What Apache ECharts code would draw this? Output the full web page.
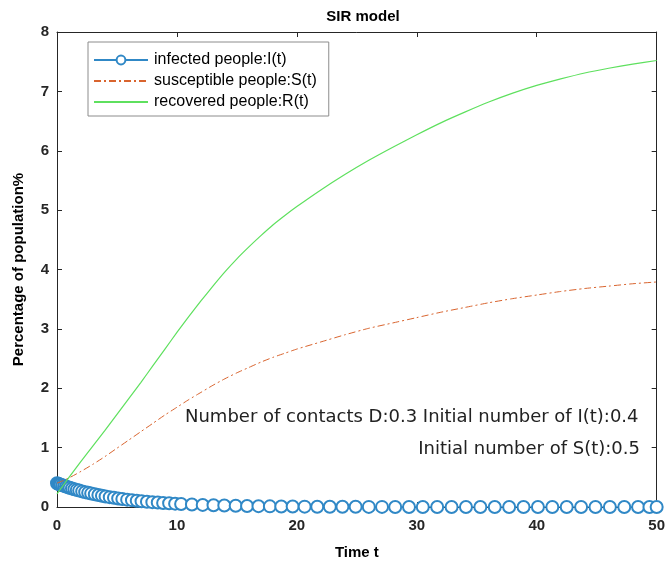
<!DOCTYPE html>
<html>
<head>
<meta charset="utf-8">
<script src="https://cdn.jsdelivr.net/npm/echarts@6/dist/echarts.min.js"></script>
<style>
  html, body { margin: 0; padding: 0; background: #fff; }
  #chart { width: 668px; height: 565px; }
</style>
</head>
<body>
<div id="chart"></div>
<script>
// Solver output times for the infected curve (one marker per step)
const tInfected = [0, 0.1, 0.2, 0.3, 0.45, 0.6, 0.75, 0.9, 1.05, 1.25, 1.45, 1.65, 1.85, 2.1, 2.35, 2.6, 2.85, 3.15, 3.45, 3.75,
  4.05, 4.4, 4.75, 5.1, 5.45, 5.85, 6.25, 6.65, 7.05, 7.5, 7.95, 8.4, 8.85, 9.35, 9.85, 10.35, 11.25, 12.15, 13.05, 13.95,
  14.9, 15.85, 16.8, 17.75, 18.7, 19.65, 20.65, 21.7, 22.75, 23.8, 24.9, 26.0, 27.1, 28.2, 29.35, 30.5, 31.7, 32.9, 34.1,
  35.3, 36.5, 37.7, 38.9, 40.1, 41.3, 42.5, 43.7, 44.9, 46.1, 47.3, 48.45, 49.4, 50];
const infected = [0.400, 0.392, 0.384, 0.376, 0.365, 0.355, 0.344, 0.334, 0.324, 0.312, 0.299, 0.288, 0.276, 0.263, 0.250,
  0.238, 0.226, 0.213, 0.201, 0.189, 0.178, 0.166, 0.155, 0.144, 0.135, 0.124, 0.115, 0.106, 0.098, 0.089, 0.082, 0.075,
  0.068, 0.062, 0.056, 0.050, 0.042, 0.035, 0.029, 0.025, 0.020, 0.017, 0.014, 0.011, 0.009, 0.008, 0.006, 0.005, 0.004,
  0.003, 0.003, 0.002, 0.002, 0.001, 0.001, 0.001, 0.001, 0, 0, 0, 0, 0, 0, 0, 0, 0, 0, 0, 0, 0, 0, 0, 0];

// Times and values for susceptible and recovered curves
const tCurve = [0, 1, 2, 3, 4, 5, 6, 7, 8, 9, 10, 11, 12, 13, 14, 15, 16, 17, 18, 19, 20, 22, 24, 26, 28, 30, 32, 34, 36,
  38, 40, 42, 44, 46, 48, 50];
const susceptible = [0.4, 0.49, 0.6, 0.72, 0.85, 0.99, 1.13, 1.27, 1.41, 1.55, 1.68, 1.81, 1.93, 2.05, 2.16, 2.26, 2.35,
  2.44, 2.52, 2.59, 2.66, 2.78, 2.9, 3.01, 3.1, 3.19, 3.28, 3.36, 3.44, 3.51, 3.57, 3.63, 3.68, 3.72, 3.76, 3.79];
const recovered = [0.22, 0.5, 0.77, 1.03, 1.29, 1.56, 1.83, 2.1, 2.38, 2.66, 2.94, 3.21, 3.47, 3.72, 3.96, 4.18, 4.38,
  4.57, 4.75, 4.91, 5.06, 5.34, 5.6, 5.84, 6.06, 6.27, 6.47, 6.65, 6.82, 6.97, 7.1, 7.21, 7.31, 7.39, 7.46, 7.52];

const seriesNames = ['infected people:I(t)', 'susceptible people:S(t)', 'recovered people:R(t)'];
const xTicks = { min: 0, max: 50, interval: 10 };
const yTicks = { min: 0, max: 8, interval: 1 };
const noteLine1 = 'Number of contacts D:0.3 Initial number of I(t):0.4';
const noteLine2 = 'Initial number of S(t):0.5';

const zip = (xs, ys) => xs.map((x, i) => [x, ys[i]]);

const axisColor = '#262626';
const tickFont = { color: axisColor, fontFamily: 'Liberation Sans, Arial, sans-serif', fontWeight: 'bold', fontSize: 15 };
const noteFont = '18px "DejaVu Sans", sans-serif';
const blue = '#3088c6';

function frameAxis(base, extra) {
  return Object.assign({
    type: 'value',
    min: base.min, max: base.max, interval: base.interval,
    axisLine: { show: true, onZero: false, lineStyle: { color: axisColor, width: 1 } },
    axisTick: { show: true, inside: true, length: 5, lineStyle: { color: axisColor } },
    splitLine: { show: false }
  }, extra);
}

const chart = echarts.init(document.getElementById('chart'), null, { renderer: 'canvas' });
chart.setOption({
  animation: false,
  backgroundColor: '#fff',
  title: {
    text: 'SIR model',
    left: 358, top: 4, textAlign: 'center',
    textStyle: { fontFamily: 'Liberation Sans, Arial, sans-serif', fontWeight: 'bold', fontSize: 15, color: '#000' }
  },
  grid: { left: 57, right: 8, top: 32, bottom: 58, containLabel: false },
  xAxis: [
    frameAxis(xTicks, {
      position: 'bottom',
      name: 'Time t', nameLocation: 'middle', nameGap: 38,
      nameTextStyle: { fontFamily: 'Liberation Sans, Arial, sans-serif', fontWeight: 'bold', fontSize: 15, color: '#000' },
      axisLabel: Object.assign({ margin: 11 }, tickFont)
    }),
    frameAxis(xTicks, { position: 'top', axisLabel: { show: false } })
  ],
  yAxis: [
    frameAxis(yTicks, {
      position: 'left',
      name: 'Percentage of population%', nameLocation: 'middle', nameGap: 31,
      nameTextStyle: { fontFamily: 'Liberation Sans, Arial, sans-serif', fontWeight: 'bold', fontSize: 15, color: '#000' },
      axisLabel: Object.assign({ margin: 8 }, tickFont)
    }),
    frameAxis(yTicks, { position: 'right', axisLabel: { show: false } })
  ],
  legend: {
    orient: 'vertical',
    left: 88, top: 42,
    padding: [10, 12, 6, 5],
    itemWidth: 54, itemHeight: 11, itemGap: 5,
    backgroundColor: '#fff',
    borderColor: '#8c8c8c', borderWidth: 1, borderRadius: 0,
    textStyle: { fontFamily: 'Liberation Sans, Arial, sans-serif', fontSize: 16, color: '#000', padding: [0, 0, 0, 1] },
    data: [
      { name: seriesNames[0] },
      { name: seriesNames[1], itemStyle: { opacity: 0 } },
      { name: seriesNames[2], itemStyle: { opacity: 0 } }
    ]
  },
  series: [
    {
      name: seriesNames[0], type: 'line',
      data: zip(tInfected, infected),
      symbol: 'emptyCircle', symbolSize: 12, showAllSymbol: true,
      lineStyle: { color: blue, width: 1 },
      itemStyle: { color: blue, borderWidth: 1 },
      z: 2
    },
    {
      name: seriesNames[1], type: 'line',
      data: zip(tCurve, susceptible),
      smooth: 0.2, symbol: 'none',
      lineStyle: { color: '#d9642e', width: 1, type: [7, 3, 2, 3] },
      itemStyle: { color: '#d9642e' },
      z: 3
    },
    {
      name: seriesNames[2], type: 'line',
      data: zip(tCurve, recovered),
      smooth: 0.2, symbol: 'none',
      lineStyle: { color: '#5ee05e', width: 1.2 },
      itemStyle: { color: '#5ee05e' },
      z: 4
    }
  ],
  graphic: [
    {
      type: 'text', left: 185, top: 408,
      style: { text: noteLine1, font: noteFont, fill: '#222' }
    },
    {
      type: 'text', right: 28, top: 440,
      style: { text: noteLine2, font: noteFont, fill: '#222' }
    }
  ]
});
</script>
</body>
</html>
